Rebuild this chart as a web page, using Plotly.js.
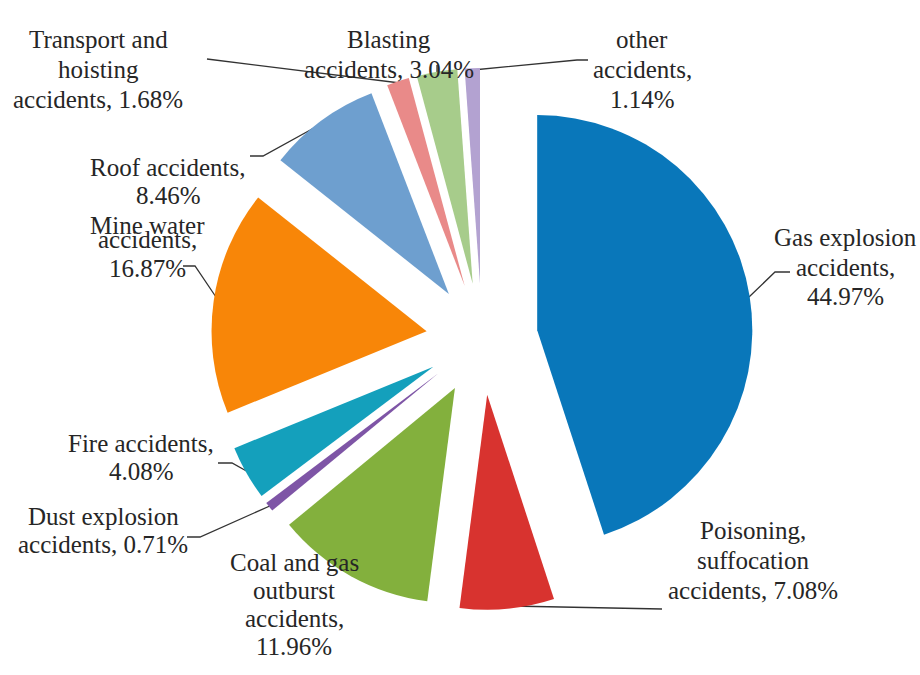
<!DOCTYPE html>
<html>
<head>
<meta charset="utf-8">
<script src="https://cdn.plot.ly/plotly-3.0.1.min.js"></script>
<style>html,body{margin:0;padding:0;background:#fff;}#chart{width:920px;height:675px;}</style>
</head>
<body>
<div id="chart"></div>
<script>
// ---- data ----
const categories = [
  "Gas explosion accidents",
  "Poisoning, suffocation accidents",
  "Coal and gas outburst accidents",
  "Dust explosion accidents",
  "Fire accidents",
  "Mine water accidents",
  "Roof accidents",
  "Transport and hoisting accidents",
  "Blasting accidents",
  "other accidents"
];
const values = [44.97, 7.08, 11.96, 0.71, 4.08, 16.87, 8.46, 1.68, 3.04, 1.14];
// label text lines, {v} replaced by the value
const labelLines = [
  ["Gas explosion", "accidents,", "{v}"],
  ["Poisoning,", "suffocation", "accidents, {v}"],
  ["Coal and gas", "outburst", "accidents,", "{v}"],
  ["Dust explosion", "accidents, {v}"],
  ["Fire accidents,", "{v}"],
  ["Mine water", "accidents,", "{v}"],
  ["Roof accidents,", "{v}"],
  ["Transport and", "hoisting", "accidents, {v}"],
  ["Blasting", "accidents, {v}"],
  ["other", "accidents,", "{v}"]
];

// ---- styling / layout config ----
const colors = ["#0977BA", "#D8332F", "#83B03D", "#7E55A6", "#14A0BC",
                "#F88608", "#6E9FCF", "#E98A89", "#A7CC8B", "#B3A2D1"];
const W = 920, H = 675;
const FONT = "Liberation Serif";
// label placement: [center x px, first line center y px, line spacing px]
const labelPos = [
  [845, 237, 30], [753, 546, 30], [294, 578, 28], [103, 532, 28], [141, 459, 28],
  [147, 210, 29], [168, 152, 28], [98, 24, 30], [389, 24, 30], [642, 24, 30]
];
// leader lines (px polyline)
const leaders = [
  [[790,272],[775,272],[749,297]],
  [[662,609],[510,606]],
  null,
  [[187,537],[200,537],[272,505]],
  [[218,463],[232,463],[250,473]],
  [[183,266],[195,266],[218,300]],
  [[250,156],[263,156],[323,123]],
  [[207,59],[400,83]],
  [[437,65],[437,73]],
  [[588,60],[577,60],[473,70]]
];

const px = x => x / W;
const py = y => 1 - y / H;

const annotations = [];
labelLines.forEach((lines, i) => {
  const [cx, y0, sp] = labelPos[i];
  lines.forEach((ln, k) => {
    annotations.push({
      xref: "paper", yref: "paper",
      x: px(cx), y: py(y0 + k * sp),
      xanchor: "center",
      text: ln.replace("{v}", values[i].toFixed(2) + "%"),
      showarrow: false,
      font: {family: FONT, size: 25, color: "#262626"}
    });
  });
});

// leader lines as line traces on a hidden pixel-scaled axis
const lx = [], ly = [];
leaders.forEach(pts => {
  if (!pts) return;
  pts.forEach(p => { lx.push(p[0]); ly.push(p[1]); });
  lx.push(null); ly.push(null);
});
const leaderTrace = {
  type: "scatter", mode: "lines", x: lx, y: ly,
  line: {color: "#333333", width: 1.3}, hoverinfo: "skip", showlegend: false
};

const trace = {
  type: "pie",
  labels: categories,
  values: values,
  sort: false,
  direction: "clockwise",
  rotation: 0,
  pull: values.map(() => 0.26),
  textinfo: "none",
  hoverinfo: "label+percent",
  marker: {colors: colors, line: {width: 0}},
  domain: {x: [0.2293, 0.8185], y: [0.0963, 0.8993]}
};

const layout = {
  width: W, height: H,
  margin: {l: 0, r: 0, t: 0, b: 0},
  showlegend: false,
  font: {family: FONT, size: 25, color: "#262626"},
  xaxis: {range: [0, W], visible: false, fixedrange: true},
  yaxis: {range: [H, 0], visible: false, fixedrange: true},
  annotations: annotations
};

Plotly.newPlot("chart", [trace, leaderTrace], layout, {displayModeBar: false, staticPlot: true});
</script>
</body>
</html>
